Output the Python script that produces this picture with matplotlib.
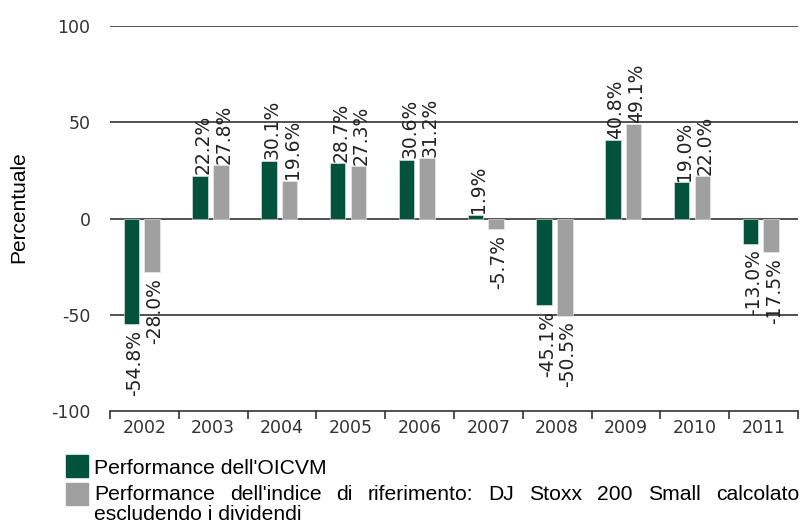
import numpy as np
import matplotlib
matplotlib.use("Agg")
from matplotlib import pyplot as plt
from matplotlib.patches import Rectangle

years = ["2002", "2003", "2004", "2005", "2006", "2007", "2008", "2009", "2010", "2011"]
fund = [-54.8, 22.2, 30.1, 28.7, 30.6, 1.9, -45.1, 40.8, 19.0, -13.0]
index = [-28.0, 27.8, 19.6, 27.3, 31.2, -5.7, -50.5, 49.1, 22.0, -17.5]
yticks = [-100, -50, 0, 50, 100]

fund_name = "Performance dell'OICVM"
index_line1 = "Performance dell'indice di riferimento: DJ Stoxx 200 Small calcolato"
index_line2 = "escludendo i dividendi"

green = "#02523c"
grey = "#a0a0a0"

fig = plt.figure(figsize=(8, 5.24), dpi=100)
W, H = 800, 524
ax = fig.add_axes([110 / W, 1 - 411 / H, 688 / W, 385 / H])

x = np.arange(len(years))
bw = 0.225
ax.bar(x - 0.19, fund, bw, color=green, edgecolor="#e8efe9", linewidth=0.4, zorder=3)
ax.bar(x + 0.11, index, bw, color=grey, edgecolor="#eeeeee", linewidth=0.4, zorder=3)

# value labels, rotated
for xs, vals in ((x - 0.19, fund), (x + 0.11, index)):
    for xi, v in zip(xs, vals):
        ax.annotate(f"{v:.1f}%", (xi, v), xytext=(2.2, 1 if v >= 0 else -4),
                    textcoords="offset points", rotation=90, ha="center",
                    va="bottom" if v >= 0 else "top", fontsize=13.5,
                    family="DejaVu Sans", color="#222222", zorder=4)

ax.set_xlim(-0.5, len(years) - 0.5)
ax.set_ylim(-100, 100)
ax.set_yticks(yticks)
ax.set_yticklabels([str(t) for t in yticks], family="DejaVu Sans", fontsize=12.5, color="#333333")
for t in yticks[1:]:
    ax.axhline(t, color="#333333", linewidth=1.2, zorder=2)

ax.set_xticks(x)
ax.set_xticklabels(years, family="DejaVu Sans", fontsize=12.5, color="#333333")
ax.set_xticks(np.arange(len(years) + 1) - 0.5, minor=True)
ax.tick_params(axis="x", which="major", length=0, pad=6)
ax.tick_params(axis="x", which="minor", length=6, width=1.2, color="#333333", direction="out")
ax.tick_params(axis="y", length=0, pad=14)

for s in ("top", "right", "left"):
    ax.spines[s].set_visible(False)
ax.spines["bottom"].set_color("#333333")
ax.spines["bottom"].set_linewidth(1.2)

fig.text(19 / W, 1 - 207 / H, "Percentuale", rotation=90, ha="center", va="center",
         family="Liberation Sans", fontsize=15)

# legend
fig.patches.append(Rectangle((66 / W, 1 - 477 / H), 22 / W, 22 / H, transform=fig.transFigure,
                             color=green))
fig.patches.append(Rectangle((66 / W, 1 - 505 / H), 22 / W, 22 / H, transform=fig.transFigure,
                             color=grey))
fig.text(94 / W, 1 - 468 / H, fund_name, va="center", family="Liberation Sans", fontsize=15.2)

# justified first line of second entry
words = index_line1.split()
texts = [fig.text(0, 1 - 495 / H, w, va="center", family="Liberation Sans", fontsize=15.2)
         for w in words]
fig.canvas.draw()
r = fig.canvas.get_renderer()
widths = [t.get_window_extent(r).width for t in texts]
left, right = 94, 799
gap = (right - left - sum(widths)) / (len(words) - 1)
pos = left
for t, w in zip(texts, widths):
    t.set_x(pos / W)
    pos += w + gap
fig.text(94 / W, 1 - 515 / H, index_line2, va="center", family="Liberation Sans", fontsize=15.2)

fig.savefig("out.png", dpi=100)
